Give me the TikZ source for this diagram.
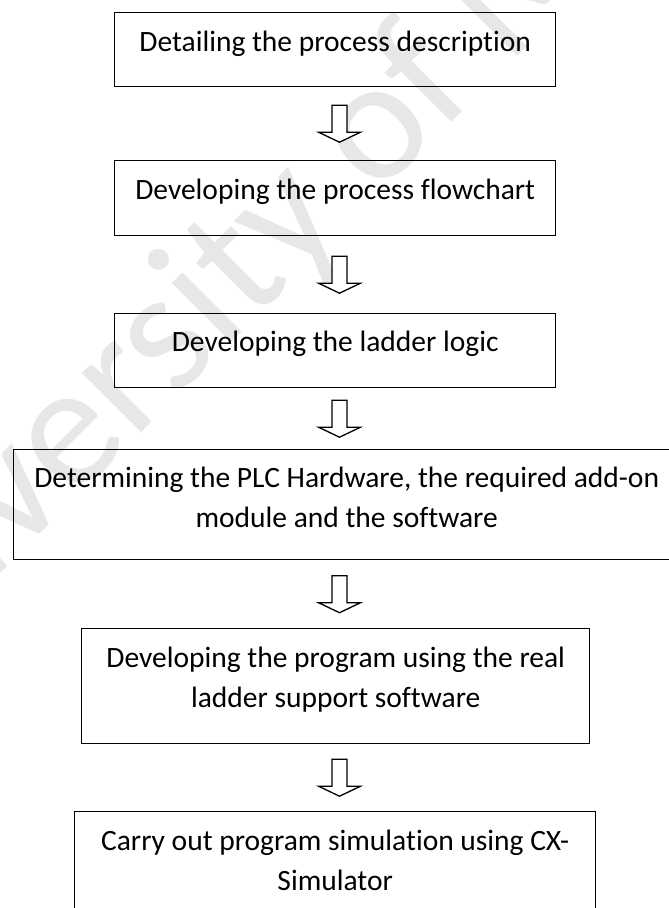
\documentclass[tikz,border=0pt]{standalone}
\usepackage{fontspec}
\setmainfont[Ligatures=NoCommon]{Carlito}
\usetikzlibrary{calc}
\definecolor{wmgray}{RGB}{231,231,231}
\tikzset{
  stepbox/.style={draw=black, line width=1.4pt, anchor=north west, inner sep=0pt},
  steptext/.style={anchor=base, align=center, inner sep=0pt,
    font=\fontsize{29.5}{40}\selectfont},
  arrowline/.style={draw=black, line width=1.3pt, fill=white, line join=miter},
  downarrow/.pic={\path[arrowline] (-7.5,-18.5) -- (7.5,-18.5) -- (7.5,8.5)
      -- (21,8.5) -- (0,18.5) -- (-21,8.5) -- (-7.5,8.5) -- cycle;}
}
\begin{document}
\begin{tikzpicture}[x=1pt, y=-1pt]
\useasboundingbox (0,0) rectangle (669,908);
\fill[white] (0,0) rectangle (669,908);

% watermark behind the chart
\node[rotate=45, text=wmgray, anchor=base west, inner sep=0pt,
  font=\fontsize{175}{175}\selectfont] (wm) at (-156,730) {University of Malaya};

% the six steps
\node[stepbox, minimum width=441pt, minimum height=74pt]  (b1) at (114,12)  {};
\node[stepbox, minimum width=441pt, minimum height=75pt]  (b2) at (114,160) {};
\node[stepbox, minimum width=441pt, minimum height=74pt]  (b3) at (114,313) {};
\node[stepbox, minimum width=666pt, minimum height=110pt] (b4) at (13,449)  {};
\node[stepbox, minimum width=508pt, minimum height=115pt] (b5) at (81,628)  {};
\node[stepbox, minimum width=521pt, minimum height=110pt] (b6) at (74,811)  {};

% labels: base anchor sits on the last line, so two-line labels drop one line
\node[steptext] (t1) at ($(b1.north)+(0,39)$) {Detailing the process description};
\node[steptext] (t2) at ($(b2.north)+(0,39)$) {Developing the process flowchart};
\node[steptext] (t3) at ($(b3.north)+(0,38)$) {Developing the ladder logic};
\node[steptext] (t4) at ($(b4.north)+(0,78)$) {Determining the PLC Hardware, the required add-on\\module and the software};
\node[steptext] (t5) at ($(b5.north)+(0,79)$) {Developing the program using the real\\ladder support software};
\node[steptext] (t6) at ($(b6.north)+(0,79)$) {Carry out program simulation using CX-\\Simulator};

% block arrows between consecutive steps
\coordinate (axis) at (339.5,0);
\foreach \a/\b in {b1/b2, b2/b3, b3/b4, b4/b5, b5/b6} {
  \path ($(\a.south)!0.5!(\b.north)$) coordinate (m);
  \pic at (m -| axis) {downarrow};
}
\end{tikzpicture}
\end{document}
